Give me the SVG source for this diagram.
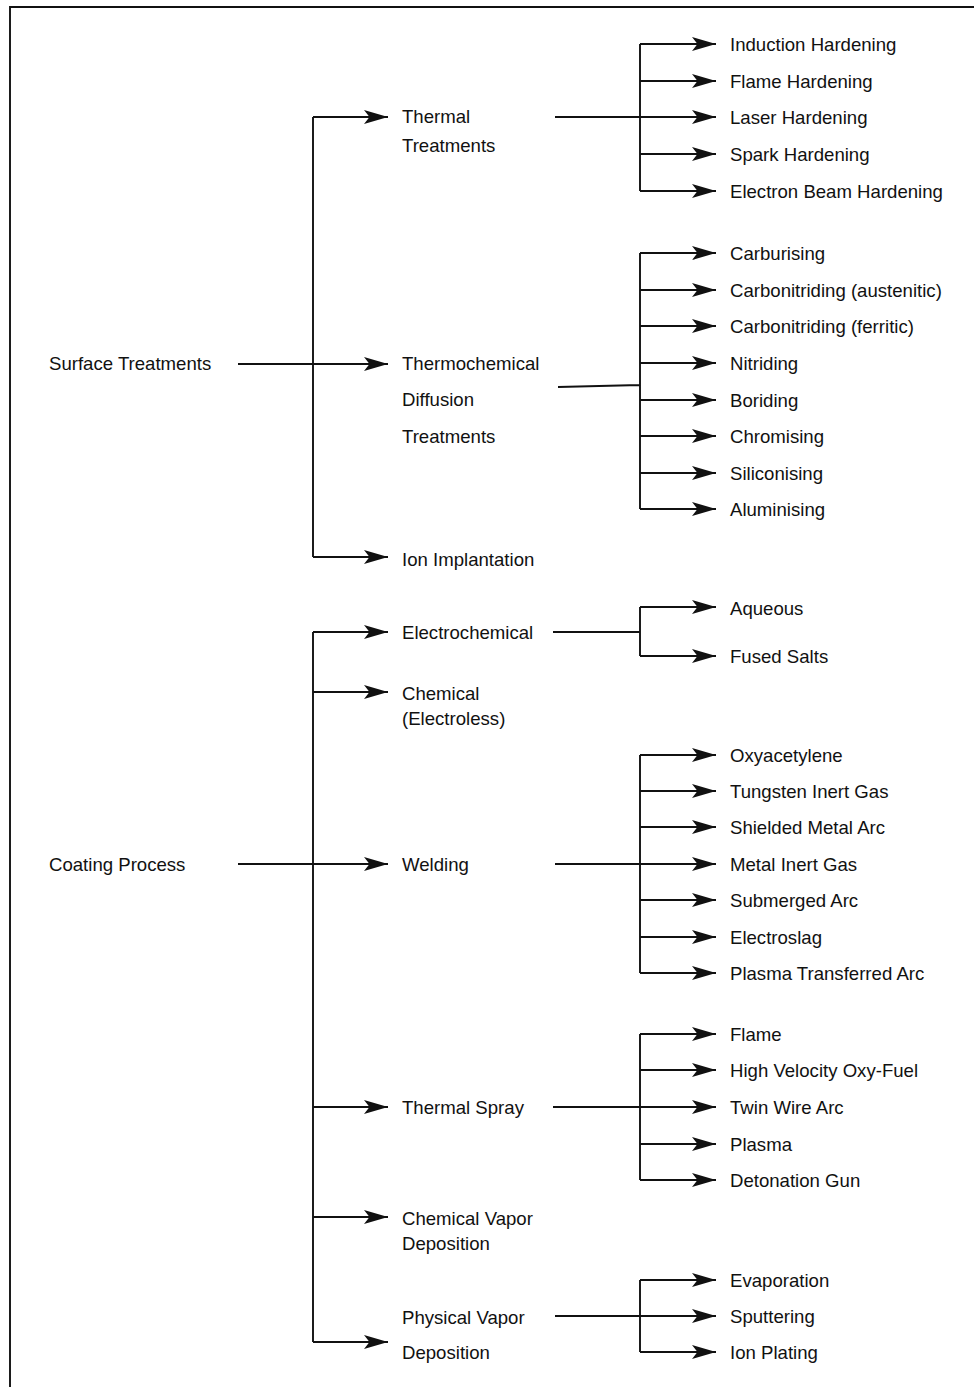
<svg xmlns="http://www.w3.org/2000/svg" width="974" height="1387" viewBox="0 0 974 1387">
<style>
text{font-family:"Liberation Sans",Arial,sans-serif;font-size:18.6px;fill:#111}
.ln{stroke:#111;stroke-width:1.9;fill:none}
.ar{stroke:#111;stroke-width:1.9;fill:none;marker-end:url(#ah)}
</style>
<defs>
<marker id="ah" markerUnits="userSpaceOnUse" markerWidth="26" markerHeight="16" refX="24" refY="8" orient="auto" viewBox="0 0 26 16">
<path d="M0,1 L24,8 L0,15 L5.5,8 Z" fill="#111"/>
</marker>
</defs>
<rect width="974" height="1387" fill="#fff"/>
<path class="ln" d="M10,1387 V7 H974" stroke-width="2"/>
<g id="connectors">
<path class="ln" d="M238,364 H313 M313,117 V557"/>
<path class="ar" d="M313,117 H388"/>
<path class="ar" d="M313,364 H388"/>
<path class="ar" d="M313,557 H388"/>
<path class="ln" d="M555,117 H640 M640,44 V191"/>
<path class="ar" d="M640,44 H716"/>
<path class="ar" d="M640,81 H716"/>
<path class="ar" d="M640,117 H716"/>
<path class="ar" d="M640,154 H716"/>
<path class="ar" d="M640,191 H716"/>
<path class="ln" d="M558,387 L640,385 M640,253 V509"/>
<path class="ar" d="M640,253 H716"/>
<path class="ar" d="M640,290 H716"/>
<path class="ar" d="M640,326 H716"/>
<path class="ar" d="M640,363 H716"/>
<path class="ar" d="M640,400 H716"/>
<path class="ar" d="M640,436 H716"/>
<path class="ar" d="M640,473 H716"/>
<path class="ar" d="M640,509 H716"/>
<path class="ln" d="M238,864 H313 M313,632 V1342"/>
<path class="ar" d="M313,632 H388"/>
<path class="ar" d="M313,692 H388"/>
<path class="ar" d="M313,864 H388"/>
<path class="ar" d="M313,1107 H388"/>
<path class="ar" d="M313,1217 H388"/>
<path class="ar" d="M313,1342 H388"/>
<path class="ln" d="M553,632 H640 M640,607 V656"/>
<path class="ar" d="M640,607 H716"/>
<path class="ar" d="M640,656 H716"/>
<path class="ln" d="M555,864 H640 M640,755 V973"/>
<path class="ar" d="M640,755 H716"/>
<path class="ar" d="M640,791 H716"/>
<path class="ar" d="M640,827 H716"/>
<path class="ar" d="M640,864 H716"/>
<path class="ar" d="M640,900 H716"/>
<path class="ar" d="M640,937 H716"/>
<path class="ar" d="M640,973 H716"/>
<path class="ln" d="M553,1107 H640 M640,1034 V1180"/>
<path class="ar" d="M640,1034 H716"/>
<path class="ar" d="M640,1070 H716"/>
<path class="ar" d="M640,1107 H716"/>
<path class="ar" d="M640,1144 H716"/>
<path class="ar" d="M640,1180 H716"/>
<path class="ln" d="M555,1316 H640 M640,1280 V1352"/>
<path class="ar" d="M640,1280 H716"/>
<path class="ar" d="M640,1316 H716"/>
<path class="ar" d="M640,1352 H716"/>
</g>
<g id="surface-treatments"><text x="49" y="370">Surface Treatments</text></g>
<g id="thermal-treatments"><text x="402" y="123">Thermal</text><text x="402" y="152">Treatments</text></g>
<g id="thermochemical"><text x="402" y="370">Thermochemical</text><text x="402" y="406">Diffusion</text><text x="402" y="443">Treatments</text></g>
<g id="ion-implantation"><text x="402" y="566">Ion Implantation</text></g>
<g id="induction"><text x="730" y="51">Induction Hardening</text></g>
<g id="flame-h"><text x="730" y="88">Flame Hardening</text></g>
<g id="laser"><text x="730" y="124">Laser Hardening</text></g>
<g id="spark"><text x="730" y="161">Spark Hardening</text></g>
<g id="ebeam"><text x="730" y="198">Electron Beam Hardening</text></g>
<g id="carburising"><text x="730" y="260">Carburising</text></g>
<g id="cn-aust"><text x="730" y="297">Carbonitriding (austenitic)</text></g>
<g id="cn-ferr"><text x="730" y="333">Carbonitriding (ferritic)</text></g>
<g id="nitriding"><text x="730" y="370">Nitriding</text></g>
<g id="boriding"><text x="730" y="407">Boriding</text></g>
<g id="chromising"><text x="730" y="443">Chromising</text></g>
<g id="siliconising"><text x="730" y="480">Siliconising</text></g>
<g id="aluminising"><text x="730" y="516">Aluminising</text></g>
<g id="coating-process"><text x="49" y="871">Coating Process</text></g>
<g id="electrochemical"><text x="402" y="639">Electrochemical</text></g>
<g id="chemical"><text x="402" y="700">Chemical</text><text x="402" y="725">(Electroless)</text></g>
<g id="welding"><text x="402" y="871">Welding</text></g>
<g id="thermal-spray"><text x="402" y="1114">Thermal Spray</text></g>
<g id="cvd"><text x="402" y="1225">Chemical Vapor</text><text x="402" y="1250">Deposition</text></g>
<g id="pvd"><text x="402" y="1324">Physical Vapor</text><text x="402" y="1359">Deposition</text></g>
<g id="aqueous"><text x="730" y="615">Aqueous</text></g>
<g id="fused-salts"><text x="730" y="663">Fused Salts</text></g>
<g id="oxyacetylene"><text x="730" y="762">Oxyacetylene</text></g>
<g id="tig"><text x="730" y="798">Tungsten Inert Gas</text></g>
<g id="sma"><text x="730" y="834">Shielded Metal Arc</text></g>
<g id="mig"><text x="730" y="871">Metal Inert Gas</text></g>
<g id="saw"><text x="730" y="907">Submerged Arc</text></g>
<g id="electroslag"><text x="730" y="944">Electroslag</text></g>
<g id="pta"><text x="730" y="980">Plasma Transferred Arc</text></g>
<g id="flame"><text x="730" y="1041">Flame</text></g>
<g id="hvof"><text x="730" y="1077">High Velocity Oxy-Fuel</text></g>
<g id="twa"><text x="730" y="1114">Twin Wire Arc</text></g>
<g id="plasma"><text x="730" y="1151">Plasma</text></g>
<g id="dgun"><text x="730" y="1187">Detonation Gun</text></g>
<g id="evaporation"><text x="730" y="1287">Evaporation</text></g>
<g id="sputtering"><text x="730" y="1323">Sputtering</text></g>
<g id="ion-plating"><text x="730" y="1359">Ion Plating</text></g>
</svg>
